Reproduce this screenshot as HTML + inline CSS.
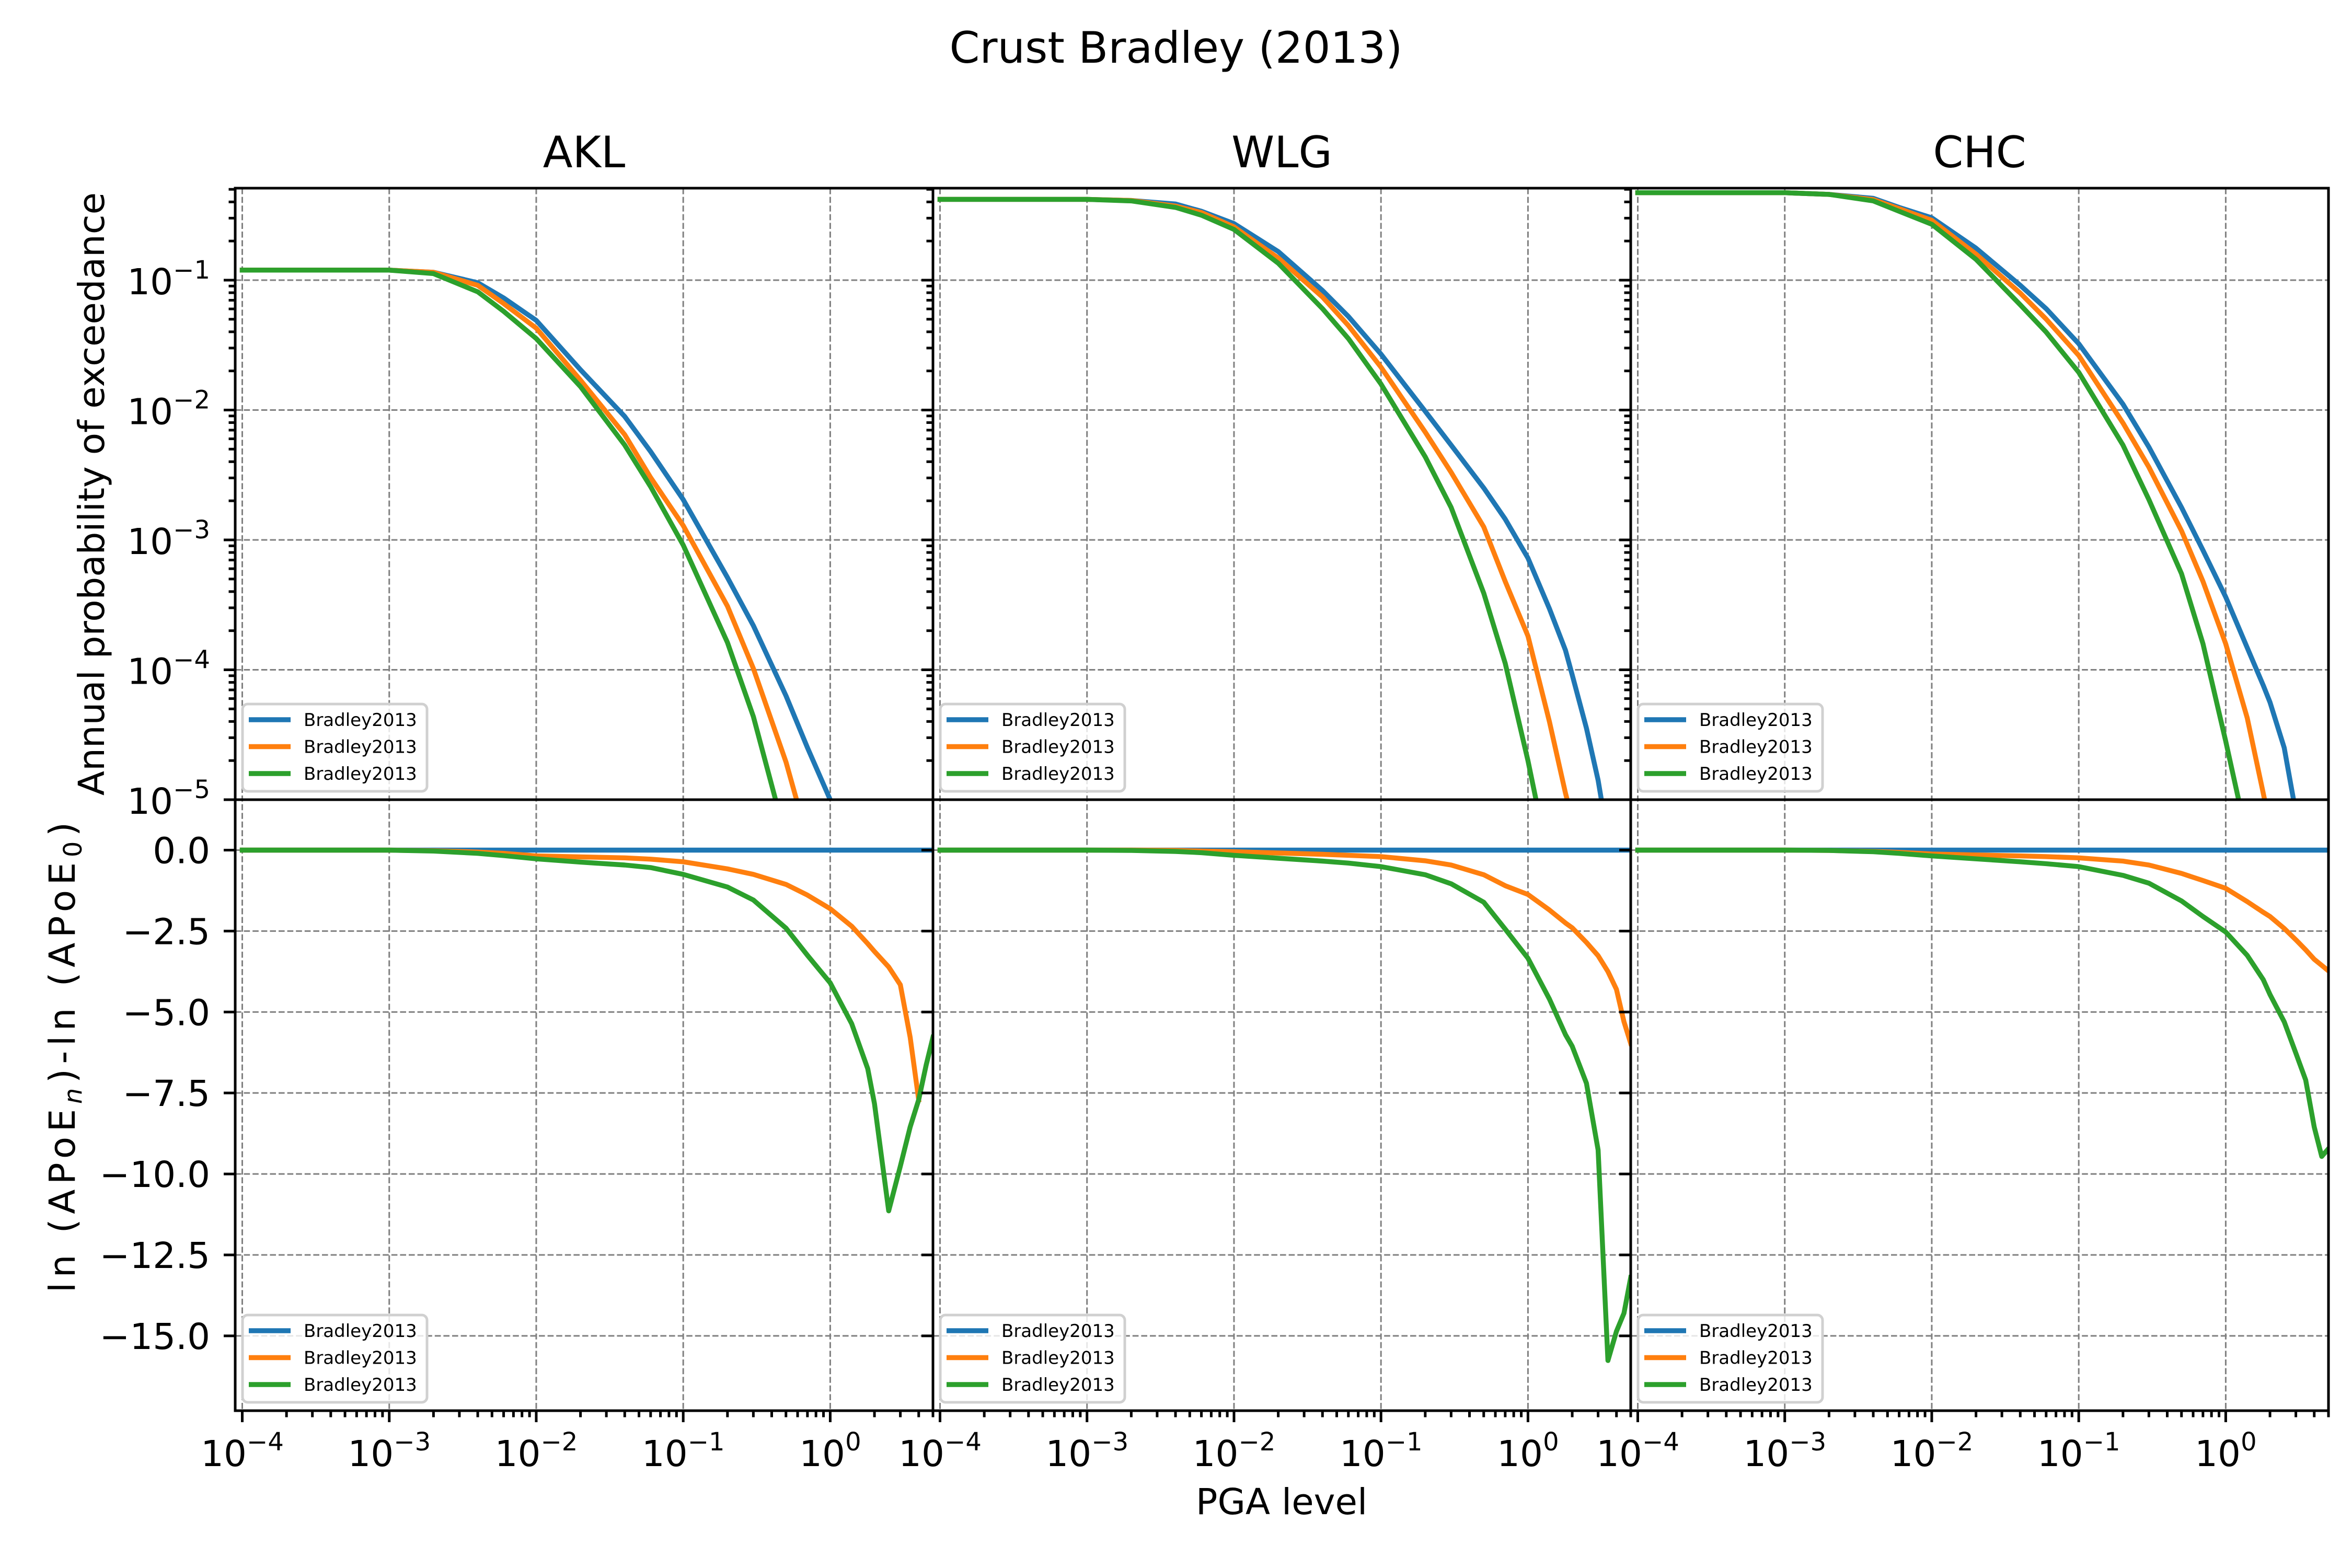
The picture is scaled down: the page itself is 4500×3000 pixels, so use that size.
<!DOCTYPE html>
<html><head><meta charset="utf-8"><style>
html,body{margin:0;padding:0;background:#fff;}
svg{display:block;font-family:"DejaVu Sans","Liberation Sans",sans-serif;}
</style></head><body>
<svg id="fig" xmlns="http://www.w3.org/2000/svg" width="4500" height="3000" viewBox="0 0 4500 3000">
<rect x="0" y="0" width="4500" height="3000" fill="#fff"/>
<text x="2250" y="120" font-size="83" text-anchor="middle">Crust Bradley (2013)</text>
<text x="2452" y="2897" font-size="69" text-anchor="middle">PGA level</text>
<text transform="translate(199,945) rotate(-90)" font-size="69" text-anchor="middle">Annual probability of exceedance</text>
<text transform="translate(143,2023) rotate(-90)" font-size="69" text-anchor="middle" textLength="900" lengthAdjust="spacing">ln (APoE<tspan font-size="48" dy="13" font-style="italic">n</tspan><tspan dy="-13">)-ln (APoE</tspan><tspan font-size="48" dy="13">0</tspan><tspan dy="-13">)</tspan></text>
<g id="plots"></g>
</svg>
<script>
// ---- data ----
const sites = ["AKL", "WLG", "CHC"];
const pga = [0.0001,0.001,0.002,0.004,0.006,0.01,0.02,0.04,0.06,0.1,0.2,0.3,0.5,0.7,1.0,1.4,1.8,2.0,2.5,3.0,3.5,4.0,4.5,5.0];
const seriesLabels = ["Bradley2013","Bradley2013","Bradley2013"];
// top: log10 annual probability of exceedance
const aklBlueTop   = [-0.923,-0.923,-0.94,-1.02,-1.137,-1.31,-1.69,-2.05,-2.32,-2.69,-3.29,-3.66,-4.20,-4.60,-5.0,-5.6,-6.2,-6.5,-7,-7.5,-8,-8.5,-9,-9.5];
const aklOrangeTop = [-0.923,-0.923,-0.94,-1.04,-1.18,-1.37,-1.77,-2.19,-2.52,-2.89,-3.51,-3.99,-4.71,-5.3,-5.9,-6.5,-7,-7.3,-7.8,-8.3,-8.8,-9.3,-9.8,-10.3];
const aklGreenTop  = [-0.923,-0.923,-0.95,-1.09,-1.24,-1.45,-1.82,-2.27,-2.59,-3.04,-3.79,-4.36,-5.3,-5.9,-6.5,-7.1,-7.6,-7.9,-8.4,-8.9,-9.4,-9.9,-10.4,-10.9];
const wlgBlueTop   = [-0.378,-0.378,-0.387,-0.414,-0.47,-0.565,-0.78,-1.08,-1.28,-1.57,-2.01,-2.27,-2.60,-2.84,-3.14,-3.53,-3.85,-4.04,-4.45,-4.85,-5.3,-5.8,-6.3,-6.8];
const wlgOrangeTop = [-0.378,-0.378,-0.387,-0.43,-0.48,-0.59,-0.83,-1.13,-1.35,-1.67,-2.17,-2.48,-2.90,-3.32,-3.74,-4.40,-4.95,-5.15,-5.6,-6.1,-6.6,-7.1,-7.6,-8.1];
const wlgGreenTop  = [-0.378,-0.378,-0.39,-0.44,-0.50,-0.61,-0.87,-1.22,-1.45,-1.80,-2.36,-2.75,-3.41,-3.95,-4.70,-5.5,-6.1,-6.4,-7,-7.6,-8.2,-8.8,-9.4,-10];
const chcBlueTop   = [-0.327,-0.327,-0.34,-0.37,-0.44,-0.52,-0.754,-1.04,-1.22,-1.49,-1.955,-2.285,-2.75,-3.08,-3.44,-3.83,-4.12,-4.25,-4.6,-5.1,-5.5,-5.9,-6.3,-6.7];
const chcOrangeTop = [-0.327,-0.327,-0.34,-0.38,-0.45,-0.54,-0.80,-1.10,-1.30,-1.58,-2.10,-2.44,-2.93,-3.32,-3.80,-4.37,-4.95,-5.2,-5.7,-6.2,-6.7,-7.2,-7.7,-8.2];
const chcGreenTop  = [-0.327,-0.327,-0.34,-0.39,-0.47,-0.57,-0.84,-1.19,-1.40,-1.71,-2.27,-2.69,-3.26,-3.80,-4.55,-5.3,-5.9,-6.2,-6.8,-7.4,-8,-8.6,-9.2,-9.8];
// bottom: ln(APoE_n) - ln(APoE_0)
const aklBlueBot   = [0,0,0,0,0,0,0,0,0,0,0,0,0,0,0,0,0,0,0,0,0,0,0,0];
const aklOrangeBot = [0,0,-0.02,-0.06,-0.1,-0.18,-0.21,-0.24,-0.28,-0.36,-0.58,-0.75,-1.06,-1.39,-1.81,-2.35,-2.89,-3.13,-3.61,-4.16,-5.78,-7.71,null,null];
const aklGreenBot  = [0,0,-0.03,-0.1,-0.17,-0.27,-0.37,-0.46,-0.54,-0.75,-1.14,-1.54,-2.41,-3.25,-4.10,-5.36,-6.75,-7.83,-11.14,-9.76,-8.55,-7.71,-6.63,-5.78];
const wlgBlueBot   = [0,0,0,0,0,0,0,0,0,0,0,0,0,0,0,0,0,0,0,0,0,0,0,0];
const wlgOrangeBot = [0,0,0,-0.01,-0.03,-0.05,-0.09,-0.13,-0.16,-0.2,-0.33,-0.46,-0.76,-1.1,-1.37,-1.85,-2.25,-2.4,-2.85,-3.26,-3.75,-4.3,-5.3,-5.97];
const wlgGreenBot  = [0,0,-0.01,-0.04,-0.08,-0.16,-0.25,-0.34,-0.4,-0.51,-0.76,-1.04,-1.61,-2.44,-3.34,-4.6,-5.7,-6.06,-7.2,-9.26,-15.76,-14.86,-14.3,-13.2];
const chcBlueBot   = [0,0,0,0,0,0,0,0,0,0,0,0,0,0,0,0,0,0,0,0,0,0,0,0];
const chcOrangeBot = [0,0,-0.01,-0.04,-0.07,-0.12,-0.15,-0.18,-0.2,-0.24,-0.34,-0.46,-0.72,-0.94,-1.18,-1.59,-1.92,-2.05,-2.42,-2.77,-3.08,-3.37,-3.56,-3.73];
const chcGreenBot  = [0,0,-0.01,-0.05,-0.1,-0.18,-0.27,-0.36,-0.42,-0.51,-0.78,-1.02,-1.57,-2.05,-2.53,-3.25,-4.0,-4.46,-5.3,-6.27,-7.1,-8.55,-9.46,-9.22];
const topSeries = [[aklBlueTop,aklOrangeTop,aklGreenTop],[wlgBlueTop,wlgOrangeTop,wlgGreenTop],[chcBlueTop,chcOrangeTop,chcGreenTop]];
const botSeries = [[aklBlueBot,aklOrangeBot,aklGreenBot],[wlgBlueBot,wlgOrangeBot,wlgGreenBot],[chcBlueBot,chcOrangeBot,chcGreenBot]];
const xTickExps = [-4,-3,-2,-1,0];
const yTopTickExps = [-1,-2,-3,-4,-5];
const yBotTicks = [0,-2.5,-5,-7.5,-10,-12.5,-15];
const yBotTickLabels = ["0.0","\u22122.5","\u22125.0","\u22127.5","\u221210.0","\u221212.5","\u221215.0"];

// ---- layout ----
const colors = ["#1f77b4","#ff7f0e","#2ca02c"];
const PW = 1335, X0 = 450, TOP0 = 360, MID = 1530, BOT1 = 2699;
const XLO = -4.048, XHI = 0.699;
const YTLO = -5, YTHI = -0.292;
const YBHI = 1.557, YBLO = -17.31;
const NS = "http://www.w3.org/2000/svg";
const root = document.getElementById("plots");
function mk(tag, attrs, parent){ const e=document.createElementNS(NS,tag); for(const k in attrs) e.setAttribute(k,attrs[k]); (parent||root).appendChild(e); return e; }
function xS(i, v){ return X0 + i*PW + (Math.log10(v)-XLO)/(XHI-XLO)*PW; }
function yTop(l){ return MID - (l-YTLO)/(YTHI-YTLO)*(MID-TOP0); }
function yBot(v){ return BOT1 - (v-YBLO)/(YBHI-YBLO)*(BOT1-MID); }
const gridStyle = {stroke:"#808080","stroke-width":3,"stroke-dasharray":"11.6 5",fill:"none"};

function pow10Label(g, x, y, exp, anchor){
  const e = (exp<0?"\u2212":"")+Math.abs(exp);
  const wBase = 88, wSup = (exp<0?0.838+0.636:0.636)*48;
  const total = wBase + wSup;
  let left = anchor==="end" ? x-total : x-total/2;
  const t1 = mk("text",{x:left,y:y,"font-size":69},g); t1.textContent="10";
  const t2 = mk("text",{x:left+wBase,y:y-30,"font-size":48},g); t2.textContent=e;
}

for(let i=0;i<3;i++){
  const px = X0 + i*PW;
  const pg = mk("g",{});
  
  
  const clipT = mk("clipPath",{id:"ct"+i},pg); mk("rect",{x:px,y:TOP0,width:PW,height:MID-TOP0},clipT);
  const clipB = mk("clipPath",{id:"cb"+i},pg); mk("rect",{x:px,y:MID,width:PW,height:BOT1-MID},clipB);
  const gg = mk("g",gridStyle,pg);
  
  
  xTickExps.forEach(ex=>{ const x=xS(i,Math.pow(10,ex)); mk("line",{x1:x,x2:x,y1:TOP0,y2:BOT1},gg); });
  yTopTickExps.forEach(ex=>{ const y=yTop(ex); mk("line",{x1:px,x2:px+PW,y1:y,y2:y},gg); });
  yBotTicks.forEach(v=>{ const y=yBot(v); mk("line",{x1:px,x2:px+PW,y1:y,y2:y},gg); });
  [["t",topSeries[i],yTop,"ct"],["b",botSeries[i],yBot,"cb"]].forEach(([k,ser,ys,cid])=>{
    const lg = mk("g",{"clip-path":"url(#"+cid+i+")"},pg);
    ser.forEach((arr,s)=>{
      let d="", pen=false;
      arr.forEach((v,j)=>{ if(v===null){pen=false;return;} d+=(pen?"L":"M")+xS(i,pga[j]).toFixed(1)+" "+ys(v).toFixed(1)+" "; pen=true; });
      const p = mk("path",{d:d,fill:"none",stroke:colors[s],"stroke-width":9.4,"stroke-linejoin":"round","stroke-linecap":"square"},lg);
      
      
    });
  });
  const ax = mk("g",{stroke:"#000","stroke-width":5,fill:"none"},pg);
  mk("rect",{x:px,y:TOP0,width:PW,height:MID-TOP0},ax);
  mk("rect",{x:px,y:MID,width:PW,height:BOT1-MID},ax);
  const tk = mk("g",{stroke:"#000","stroke-width":5},pg);
  for(let ex=-5; ex<=-1; ex++){
    mk("line",{x1:px-22,x2:px,y1:yTop(ex),y2:yTop(ex)},tk);
    for(let m=2;m<=9;m++){ const l=ex+Math.log10(m); if(l<=YTHI) mk("line",{x1:px-12.5,x2:px,y1:yTop(l),y2:yTop(l)},tk); }
  }
  yBotTicks.forEach(v=>mk("line",{x1:px-22,x2:px,y1:yBot(v),y2:yBot(v)},tk));
  for(let ex=-4; ex<=0; ex++){
    const x=xS(i,Math.pow(10,ex)); mk("line",{x1:x,x2:x,y1:BOT1,y2:BOT1+22},tk);
    for(let m=2;m<=9;m++){ const v=m*Math.pow(10,ex); if(Math.log10(v)<=XHI){ const xm=xS(i,v); mk("line",{x1:xm,x2:xm,y1:BOT1,y2:BOT1+12.5},tk);} }
  }
  const xl = mk("g",{},pg);
  
  
  xTickExps.forEach(ex=>pow10Label(xl, xS(i,Math.pow(10,ex)), 2805, ex, "middle"));
  if(i===0){
    const yl = mk("g",{},pg);
    
    
    yTopTickExps.forEach(ex=>pow10Label(yl, 402, yTop(ex)+27, ex, "end"));
    yBotTicks.forEach((v,j)=>{ const t=mk("text",{x:402,y:yBot(v)+25,"font-size":69,"text-anchor":"end"},yl); t.textContent=yBotTickLabels[j]; });
  }
  const tt = mk("text",{x:px+PW/2,y:320,"font-size":83,"text-anchor":"middle"},pg);
  
  
  tt.textContent = sites[i];
  [MID,BOT1].forEach((bottom,li)=>{
    const lgd = mk("g",{},pg);
    
    
    const bx = px+14, by = bottom-16-167;
    mk("rect",{x:bx,y:by,width:353,height:167,rx:10,fill:"rgba(255,255,255,0.8)",stroke:"#d0d0d0","stroke-width":5},lgd);
    seriesLabels.forEach((lab,s)=>{
      const cy = by+30+s*51.5;
      const e = mk("g",{},lgd);
      
      
      mk("line",{x1:bx+12,x2:bx+92,y1:cy,y2:cy,stroke:colors[s],"stroke-width":9.4},e);
      const t = mk("text",{x:bx+117,y:cy+12,"font-size":34},e); t.textContent = lab;
    });
  });
}
</script>
</body></html>
